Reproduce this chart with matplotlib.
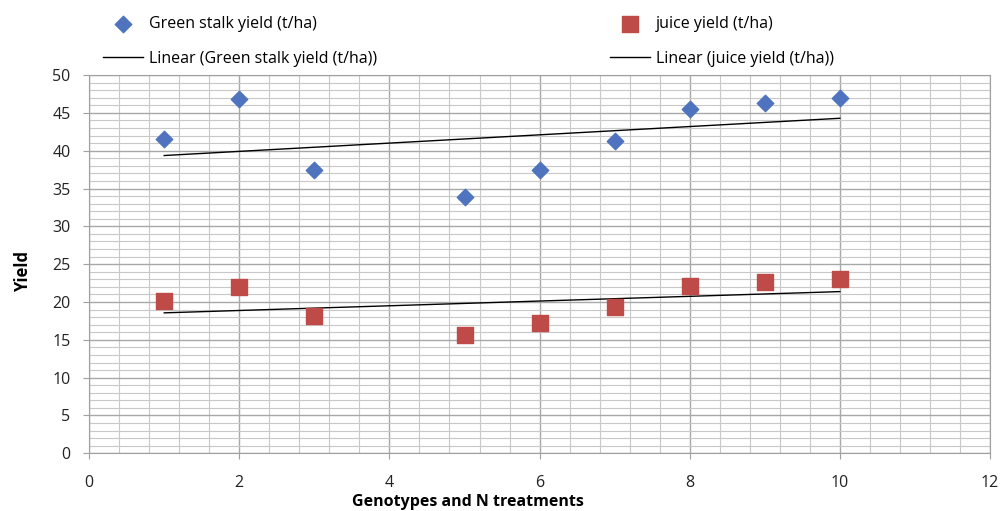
import numpy as np
import matplotlib
matplotlib.use("Agg")
import matplotlib.pyplot as plt
from matplotlib.ticker import MultipleLocator

plt.rcParams["font.family"] = ["Open Sans", "DejaVu Sans"]

# values
treatments = [1, 2, 3, 5, 6, 7, 8, 9, 10]
green_stalk = [41.5, 46.9, 37.4, 33.9, 37.5, 41.3, 45.5, 46.3, 47.0]
juice = [20.1, 22.0, 18.2, 15.6, 17.2, 19.3, 22.1, 22.7, 23.0]

x = np.array(treatments, dtype=float)
xs = np.array([x.min(), x.max()])

fig = plt.figure(figsize=(10.02, 5.11), dpi=100)
ax = fig.add_axes([0.089, 0.113, 0.899, 0.740])

ax.scatter(x, green_stalk, marker="D", s=70, color="#4F73BE", zorder=3,
           label="Green stalk yield (t/ha)")
ax.scatter(x, juice, marker="s", s=130, color="#BE4B48", zorder=3,
           label="juice yield (t/ha)")

g_fit = np.polyfit(x, green_stalk, 1)
j_fit = np.polyfit(x, juice, 1)
ax.plot(xs, np.polyval(g_fit, xs), color="black", lw=1.0, zorder=2,
        label="Linear (Green stalk yield (t/ha))")
ax.plot(xs, np.polyval(j_fit, xs), color="black", lw=1.0, zorder=2,
        label="Linear (juice yield (t/ha))")

ax.set_xlim(0, 12)
ax.set_ylim(0, 50)
ax.xaxis.set_major_locator(MultipleLocator(2))
ax.xaxis.set_minor_locator(MultipleLocator(0.4))
ax.yaxis.set_major_locator(MultipleLocator(5))
ax.yaxis.set_minor_locator(MultipleLocator(1))
ax.grid(which="minor", color="#c8c8c8", lw=0.8)
ax.grid(which="major", color="#a8a8a8", lw=1.0)
ax.set_axisbelow(True)
for s in ax.spines.values():
    s.set_color("#a0a0a0")
ax.tick_params(which="minor", length=0)
ax.tick_params(which="major", length=4.5, color="#a0a0a0", labelsize=11.5,
               labelcolor="#222222")
ax.tick_params(axis="x", which="major", pad=11)
ax.tick_params(axis="y", which="major", pad=9)

ax.set_xlabel("Genotypes and N treatments", fontsize=11.5, fontweight="bold")
ax.xaxis.set_label_coords(0.42, -0.107)
ax.set_ylabel("Yield", fontsize=12, fontweight="bold")
ax.yaxis.set_label_coords(-0.063, 0.48)

h, l = ax.get_legend_handles_labels()
order = [0, 2, 1, 3]
fig.legend([h[i] for i in order], [l[i] for i in order], ncol=2,
           loc="upper left", bbox_to_anchor=(0.092, 0.99), frameon=False,
           fontsize=11.5, handlelength=2.5, handletextpad=0.35,
           columnspacing=14.6, labelspacing=1.15, borderaxespad=0.3)

fig.savefig("out.png", dpi=100)
